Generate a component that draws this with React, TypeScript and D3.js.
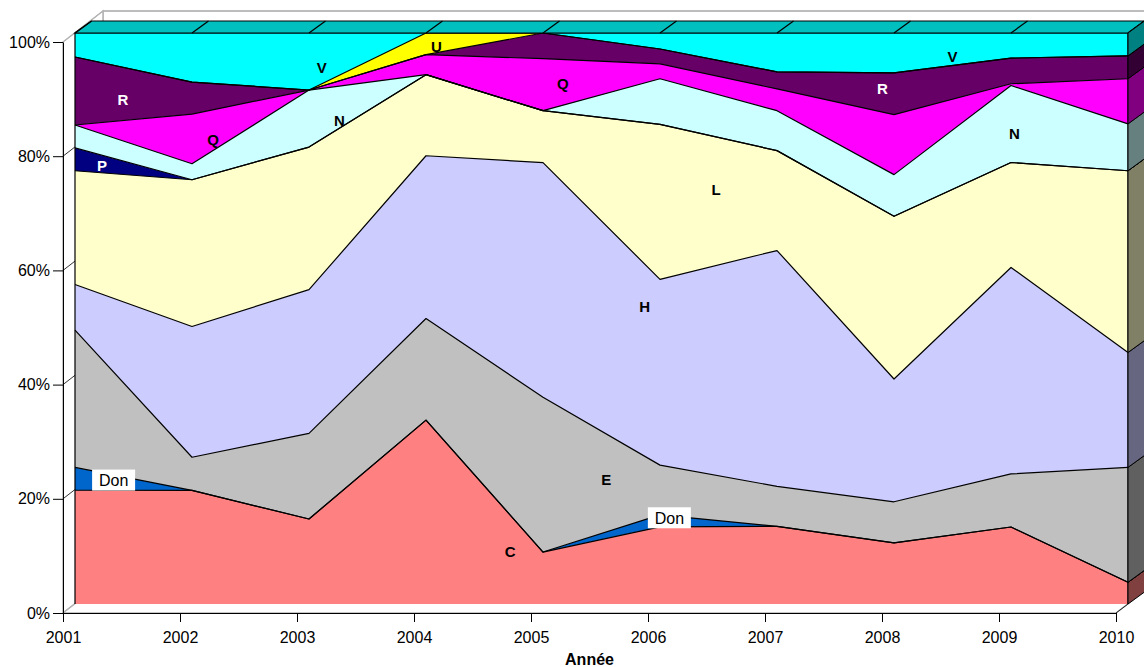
import React, { useEffect, useRef } from 'react';
import * as d3 from 'd3';

const years = [2001, 2002, 2003, 2004, 2005, 2006, 2007, 2008, 2009, 2010];

// stacked from bottom to top
const seriesKeys = ['C', 'Don', 'E', 'H', 'L', 'P', 'N', 'Q', 'R', 'U', 'V'];
const valuesC = [19.9, 19.9, 14.9, 32.2, 9.1, 13.5, 13.6, 10.7, 13.5, 3.8];
const valuesDon = [4.0, 0, 0, 0, 0, 2.1, 0, 0, 0, 0];
const valuesE = [24.0, 5.8, 15.0, 17.8, 27.1, 8.7, 7.0, 7.2, 9.3, 20.1];
const valuesH = [8.0, 22.9, 25.2, 28.5, 41.1, 32.5, 41.3, 21.5, 36.2, 20.1];
const valuesL = [19.9, 25.7, 25.0, 14.2, 9.1, 27.1, 17.5, 28.5, 18.4, 31.8];
const valuesP = [4.0, 0, 0, 0, 0, 0, 0, 0, 0, 0];
const valuesN = [4.0, 2.8, 10.0, 0, 0, 8.0, 7.0, 7.3, 13.5, 8.2];
const valuesQ = [0, 8.7, 0, 3.5, 9.1, 2.6, 3.8, 10.5, 0.3, 7.9];
const valuesR = [11.9, 5.6, 0, 0, 4.5, 2.6, 3.0, 7.3, 4.5, 4.0];
const valuesU = [0, 0, 0, 3.8, 0, 0, 0, 0, 0, 0];
const valuesV = [4.2, 8.6, 10.0, 0, 0, 2.8, 6.8, 7.0, 4.4, 4.0];

const seriesValues = [valuesC, valuesDon, valuesE, valuesH, valuesL, valuesP, valuesN, valuesQ, valuesR, valuesU, valuesV];
const seriesColors = ['#FF8080', '#0066CC', '#C0C0C0', '#CCCCFF', '#FFFFCC', '#000080', '#CCFFFF', '#FF00FF', '#660066', '#FFFF00', '#00FFFF'];

const yTicks = [0, 0.2, 0.4, 0.6, 0.8, 1];

// in-plot labels: [text, year position, percent]
const seriesLabels: [string, number, number][] = [
    ['R', 2001.41, 88.3],
    ['Q', 2002.18, 81.3],
    ['P', 2001.23, 76.7],
    ['V', 2003.11, 94.0],
    ['N', 2003.26, 84.6],
    ['U', 2004.09, 97.7],
    ['Q', 2005.17, 91.2],
    ['L', 2006.48, 72.5],
    ['H', 2005.87, 52.0],
    ['E', 2005.54, 21.7],
    ['C', 2004.72, 9.1],
    ['R', 2007.9, 90.2],
    ['V', 2008.5, 95.8],
    ['N', 2009.03, 82.3],
];
const whiteLabels = ['R', 'P'];
const boxLabels: [string, number, number][] = [
    ['Don', 2001.33, 21.7],
    ['Don', 2006.08, 15.1],
];

const FONT = '"Liberation Sans", Arial, sans-serif';

const shade = (c: string, k: number) => {
    const rgb = d3.rgb(c);
    return d3.rgb(rgb.r * k, rgb.g * k, rgb.b * k).formatHex();
};

export default function App() {
    const svgRef = useRef<SVGSVGElement>(null);

    useEffect(() => {
        if (!svgRef.current) return;
        const width = 1144;
        const height = 667;

        const svg = d3.select(svgRef.current)
            .attr('width', width)
            .attr('height', height)
            .attr('viewBox', `0 0 ${width} ${height}`);
        svg.selectAll('*').remove();

        // front plane (axes) scales
        const x = d3.scaleLinear().domain([2001, 2010]).range([63, 1116]);
        const y = d3.scaleLinear().domain([0, 1]).range([613, 42]);

        // 3d offsets: series front face, series depth, wall
        const front = { dx: 12, dy: -9 };
        const thick = { dx: 16.5, dy: -12 };
        const wall = { dx: 40, dy: -31 };
        const fx = (v: number) => x(v) + front.dx;
        const fy = (v: number) => y(v) + front.dy;

        const x0 = x(2001), x1 = x(2010), yb = y(0), yt = y(1);

        // walls and floor
        const gridStroke = '#b4b4b4';
        svg.append('polygon')
            .attr('points', [[x0 + wall.dx, yt + wall.dy], [x1 + wall.dx, yt + wall.dy], [x1 + wall.dx, yb + wall.dy], [x0 + wall.dx, yb + wall.dy]].join(' '))
            .attr('fill', 'white').attr('stroke', gridStroke).attr('stroke-width', 1.5);
        svg.append('polygon')
            .attr('points', [[x0, yt], [x0 + wall.dx, yt + wall.dy], [x0 + wall.dx, yb + wall.dy], [x0, yb]].join(' '))
            .attr('fill', 'white').attr('stroke', gridStroke).attr('stroke-width', 1.5);
        svg.append('polygon')
            .attr('points', [[x0, yb], [x1, yb], [x1 + wall.dx, yb + wall.dy], [x0 + wall.dx, yb + wall.dy]].join(' '))
            .attr('fill', 'white').attr('stroke', gridStroke).attr('stroke-width', 1.5);

        // wall gridlines
        svg.append('g').selectAll('path')
            .data(yTicks)
            .enter()
            .append('path')
            .attr('d', t => `M${x0},${y(t)}L${x0 + wall.dx},${y(t) + wall.dy}L${x1 + wall.dx},${y(t) + wall.dy}`)
            .attr('fill', 'none')
            .attr('stroke', t => (t === 0 || t === 1 ? gridStroke : '#333'))
            .attr('stroke-width', 1);

        // stacked data
        const table = years.map((yr, i) => {
            const row: any = { year: yr };
            seriesKeys.forEach((k, j) => { row[k] = seriesValues[j][i]; });
            return row;
        });
        const stacked = d3.stack<any>().keys(seriesKeys).offset(d3.stackOffsetExpand)(table);

        const area = d3.area<any>()
            .x(d => fx(d.data.year))
            .y0(d => fy(d[0]))
            .y1(d => fy(d[1]));
        const topLine = d3.line<any>()
            .x(d => fx(d.data.year))
            .y(d => fy(d[1]));

        svg.append('g').selectAll('path')
            .data(stacked)
            .enter()
            .append('path')
            .attr('d', area)
            .attr('fill', (d, i) => seriesColors[i])
            .attr('stroke', 'none');

        svg.append('g').selectAll('path')
            .data(stacked)
            .enter()
            .append('path')
            .attr('d', topLine)
            .attr('fill', 'none')
            .attr('stroke', '#000')
            .attr('stroke-width', 1.2)
            .attr('stroke-linejoin', 'round');

        // front face side edges
        svg.append('path')
            .attr('d', `M${fx(2001)},${fy(0)}V${fy(1)}M${fx(2010)},${fy(0)}V${fy(1)}`)
            .attr('stroke', '#000')
            .attr('stroke-width', 1.2);

        // top face
        const topY = fy(1);
        svg.append('polygon')
            .attr('points', [[fx(2001), topY], [fx(2010), topY], [fx(2010) + thick.dx, topY + thick.dy], [fx(2001) + thick.dx, topY + thick.dy]].join(' '))
            .attr('fill', shade(seriesColors[seriesColors.length - 1], 0.75))
            .attr('stroke', '#000')
            .attr('stroke-width', 1.2);
        svg.append('g').selectAll('line')
            .data(years)
            .enter()
            .append('line')
            .attr('x1', d => fx(d)).attr('y1', topY)
            .attr('x2', d => fx(d) + thick.dx).attr('y2', topY + thick.dy)
            .attr('stroke', '#000')
            .attr('stroke-width', 1.2);

        // right side face
        const last = years.length - 1;
        const xr = fx(2010);
        svg.append('g').selectAll('polygon')
            .data(stacked)
            .enter()
            .append('polygon')
            .attr('points', d => {
                const lo = fy(d[last][0]);
                const hi = fy(d[last][1]);
                return [[xr, lo], [xr, hi], [xr + thick.dx, hi + thick.dy], [xr + thick.dx, lo + thick.dy]].join(' ');
            })
            .attr('fill', (d, i) => shade(seriesColors[i], 0.5))
            .attr('stroke', '#000')
            .attr('stroke-width', 1);

        // floor right edge
        svg.append('line')
            .attr('x1', x1).attr('y1', yb)
            .attr('x2', x1 + front.dx).attr('y2', yb + front.dy)
            .attr('stroke', '#222').attr('stroke-width', 1);

        // axes
        const yAxis = svg.append('g')
            .attr('transform', `translate(${x0},0)`)
            .call(d3.axisLeft(y).tickValues(yTicks).tickFormat(d3.format('.0%')).tickSize(10).tickSizeOuter(0).tickPadding(3));
        yAxis.selectAll('text').attr('fill', '#000').attr('font-size', '16px').attr('font-family', FONT);
        yAxis.selectAll('line, path').attr('stroke', '#000');

        const xAxis = svg.append('g')
            .attr('transform', `translate(0,${yb})`)
            .call(d3.axisBottom(x).tickValues(years).tickFormat(d3.format('d')).tickSize(9).tickSizeOuter(0).tickPadding(10));
        xAxis.selectAll('text').attr('fill', '#000').attr('font-size', '16px').attr('font-family', FONT);
        xAxis.selectAll('line, path').attr('stroke', '#000');

        svg.append('text')
            .attr('x', (x0 + x1) / 2)
            .attr('y', 665)
            .attr('text-anchor', 'middle')
            .attr('font-family', FONT)
            .attr('font-size', '16px')
            .attr('font-weight', 'bold')
            .text('Année');

        // series labels
        svg.append('g').selectAll('text')
            .data(seriesLabels)
            .enter()
            .append('text')
            .attr('x', d => fx(d[1]))
            .attr('y', d => fy(d[2] / 100))
            .attr('dy', '0.36em')
            .attr('text-anchor', 'middle')
            .attr('font-family', FONT)
            .attr('font-size', '15px')
            .attr('font-weight', 'bold')
            .attr('fill', d => (whiteLabels.includes(d[0]) ? '#fff' : '#000'))
            .text(d => d[0]);

        const boxes = svg.append('g').selectAll('g')
            .data(boxLabels)
            .enter()
            .append('g')
            .attr('transform', d => `translate(${fx(d[1])},${fy(d[2] / 100)})`);
        boxes.append('rect')
            .attr('x', -21.5).attr('y', -10.5)
            .attr('width', 43).attr('height', 21)
            .attr('fill', '#fff');
        boxes.append('text')
            .attr('dy', '0.36em')
            .attr('text-anchor', 'middle')
            .attr('font-family', FONT)
            .attr('font-size', '16px')
            .attr('fill', '#000')
            .text(d => d[0]);
    }, []);

    return <svg ref={svgRef} style={{ position: 'absolute', left: 0, top: 0, display: 'block' }} />;
}
